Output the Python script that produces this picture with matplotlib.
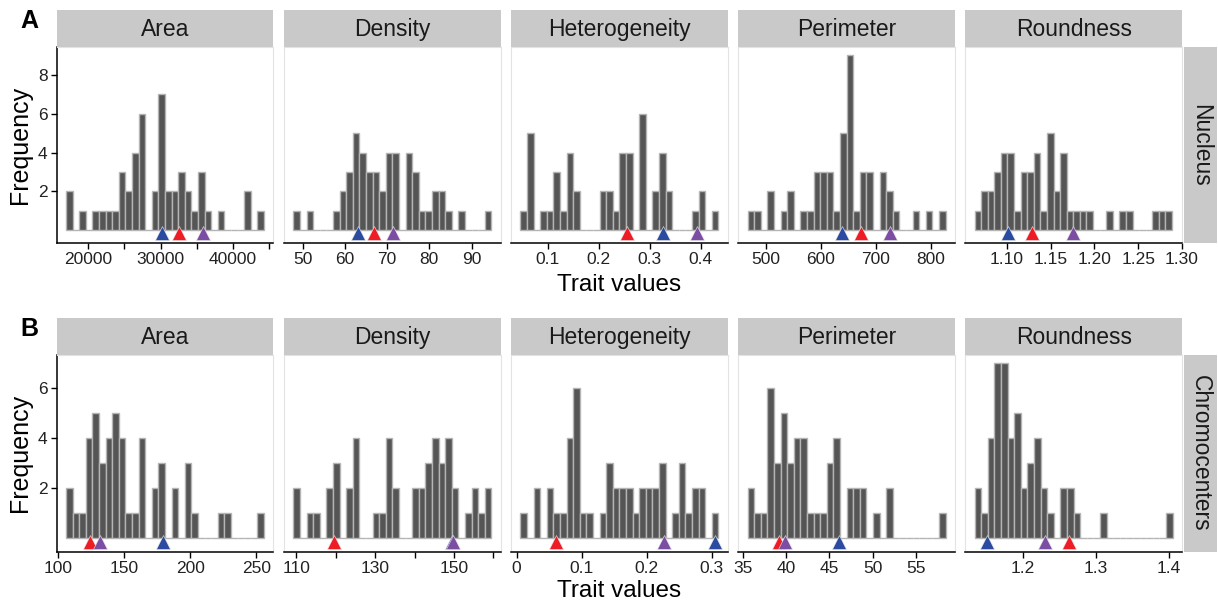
import matplotlib
matplotlib.use("Agg")
import matplotlib.pyplot as plt
import numpy as np

plt.rcParams['font.family'] = ['Liberation Sans', 'DejaVu Sans']

traits = ["Area", "Density", "Heterogeneity", "Perimeter", "Roundness"]
rows = ["Nucleus", "Chromocenters"]
row_tags = ["A", "B"]

# histogram counts (30 bins)
nuc_area = [2, 0, 1, 0, 1, 1, 1, 1, 3, 2, 4, 6, 0, 2, 7, 2, 2, 3, 2, 1, 3, 1, 0, 1, 0, 0, 0, 2, 0, 1]
nuc_density = [1, 0, 1, 0, 0, 0, 1, 2, 3, 5, 4, 3, 3, 2, 4, 4, 0, 4, 3, 1, 1, 2, 2, 1, 0, 1, 0, 0, 0, 1]
nuc_het = [1, 5, 0, 1, 1, 3, 1, 4, 2, 0, 0, 0, 2, 2, 1, 4, 4, 0, 6, 0, 2, 4, 2, 0, 0, 0, 1, 2, 0, 1]
nuc_perim = [1, 1, 0, 2, 0, 1, 2, 0, 1, 1, 3, 3, 3, 1, 5, 9, 1, 3, 3, 0, 3, 2, 1, 0, 0, 1, 0, 1, 0, 1]
nuc_round = [1, 2, 2, 3, 4, 4, 1, 3, 3, 4, 1, 5, 2, 4, 1, 1, 1, 1, 0, 0, 1, 0, 1, 1, 0, 0, 0, 1, 1, 1]
chr_area = [2, 1, 1, 4, 5, 3, 4, 5, 4, 1, 1, 4, 0, 2, 3, 0, 2, 0, 3, 1, 0, 0, 0, 1, 1, 0, 0, 0, 0, 1]
chr_density = [2, 0, 1, 1, 0, 2, 3, 0, 2, 4, 0, 0, 1, 1, 4, 2, 0, 0, 2, 2, 3, 4, 3, 4, 2, 0, 1, 2, 1, 2]
chr_het = [1, 0, 2, 0, 2, 1, 1, 4, 6, 1, 1, 0, 1, 3, 2, 2, 2, 1, 2, 2, 2, 3, 0, 1, 3, 1, 2, 2, 0, 1]
chr_perim = [2, 1, 1, 6, 3, 5, 3, 4, 4, 1, 1, 1, 3, 4, 0, 2, 2, 2, 0, 1, 0, 2, 0, 0, 0, 0, 0, 0, 0, 1]
chr_round = [2, 1, 4, 7, 7, 4, 5, 2, 3, 4, 2, 1, 0, 2, 2, 1, 0, 0, 0, 1, 0, 0, 0, 0, 0, 0, 0, 0, 0, 1]

# range covered by the bins (first edge, last edge)
nuc_ranges = [(16978, 44258), (47.77, 94.7), (0.0462, 0.4348), (466.7, 826.7), (1.0631, 1.2886)]
chr_ranges = [(106.3, 255.8), (109.3, 159.47), (0.0057, 0.3103), (35.51, 58.49), (1.1339, 1.4055)]

# marker positions: blue, red, purple
nuc_blue = [30220, 63.06, 0.327, 637.6, 1.101]
nuc_red = [32500, 66.8, 0.255, 672, 1.129]
nuc_purple = [35800, 71.4, 0.392, 725.5, 1.175]
chr_blue = [179.5, 149.6, 0.305, 46.14, 1.151]
chr_red = [124.1, 119.7, 0.0613, 39.18, 1.263]
chr_purple = [132.1, 149.8, 0.227, 39.9, 1.231]

# x ticks and labels per panel
nuc_ticks = [[20000, 25000, 30000, 35000, 40000, 45000], [50, 60, 70, 80, 90],
             [0.1, 0.2, 0.3, 0.4], [500, 600, 700, 800],
             [1.10, 1.15, 1.20, 1.25, 1.30]]
nuc_labels = [["20000", "", "30000", "", "40000", ""], ["50", "60", "70", "80", "90"],
              ["0.1", "0.2", "0.3", "0.4"], ["500", "600", "700", "800"],
              ["1.10", "1.15", "1.20", "1.25", "1.30"]]
chr_ticks = [[100, 150, 200, 250], [110, 120, 130, 140, 150, 160],
             [0, 0.1, 0.2, 0.3], [35, 40, 45, 50, 55], [1.2, 1.3, 1.4]]
chr_labels = [["100", "150", "200", "250"], ["110", "", "130", "", "150", ""],
              ["0", "0.1", "0.2", "0.3"], ["35", "40", "45", "50", "55"],
              ["1.2", "1.3", "1.4"]]
y_ticks = [[2, 4, 6, 8], [2, 4, 6]]

counts = [[nuc_area, nuc_density, nuc_het, nuc_perim, nuc_round],
          [chr_area, chr_density, chr_het, chr_perim, chr_round]]
ranges = [nuc_ranges, chr_ranges]
markers = [(nuc_blue, nuc_red, nuc_purple), (chr_blue, chr_red, chr_purple)]
ticks = [nuc_ticks, chr_ticks]
labels = [nuc_labels, chr_labels]

W, H = 1218, 604
fig = plt.figure(figsize=(W / 100, H / 100), dpi=100)

def px_axes(x0, y0, x1, y1):
    return fig.add_axes([x0 / W, 1 - y1 / H, (x1 - x0) / W, (y1 - y0) / H])

panel_left = [56.7, 284, 511, 738.3, 965.3]
panel_w = 216.7
row_top = [47, 355]
row_bot = [243, 551.7]
xlab_y = [285, 591]
strip_h = 37
ylims = [(-0.65, 9.43), (-0.56, 7.3)]
tri_y = [-0.12, -0.17]
tri_cols = ["#2B4BA0", "#EE1C25", "#7B4EA3"]
strip_col = "#C9C9C9"

for r in range(2):
    for c in range(5):
        x0 = panel_left[c]
        ax = px_axes(x0, row_top[r], x0 + panel_w, row_bot[r])
        lo, hi = ranges[r][c]
        edges = np.linspace(lo, hi, 31)
        ax.bar(edges[:-1], counts[r][c], width=edges[1] - edges[0], align='edge',
               color="#555555", edgecolor="#B4B4B4", linewidth=1.0, zorder=2)
        for vals, col in zip(markers[r], tri_cols):
            ax.plot(vals[c], tri_y[r], marker='^', ms=9.5, color=col,
                    mec='#E8E8E8', mew=0.4, zorder=3, clip_on=False)
        pad = 0.047 * (hi - lo)
        ax.set_xlim(lo - pad, hi + pad)
        ax.set_ylim(*ylims[r])
        ax.set_xticks(ticks[r][c])
        ax.set_xticklabels(labels[r][c])
        for s in ax.spines.values():
            s.set_color("#E3E3E3")
            s.set_linewidth(0.8)
        ax.spines['bottom'].set_color("black")
        ax.spines['bottom'].set_linewidth(1.1)
        ax.tick_params(axis='x', length=4, width=1, colors='black', labelsize=12.5,
                       labelcolor='#222222', pad=2.5)
        if c == 0:
            ax.spines['left'].set_color("black")
            ax.spines['left'].set_linewidth(1.1)
            ax.set_yticks(y_ticks[r])
            ax.tick_params(axis='y', length=4, width=1, colors='black', labelsize=12.5,
                           labelcolor='#222222', pad=2.5)
        else:
            ax.set_yticks([])

        # facet strip on top
        sx = px_axes(x0, row_top[r] - strip_h, x0 + panel_w, row_top[r])
        sx.set_facecolor(strip_col)
        sx.set_xticks([])
        sx.set_yticks([])
        for s in sx.spines.values():
            s.set_visible(False)
        sx.text(0.5, 0.48, traits[c], ha='center', va='center', fontsize=16.5,
                color='#1a1a1a', transform=sx.transAxes)

    # row strip on the right
    rx = px_axes(1183.5, row_top[r], 1217, row_bot[r])
    rx.set_facecolor(strip_col)
    rx.set_xticks([])
    rx.set_yticks([])
    for s in rx.spines.values():
        s.set_visible(False)
    rx.text(0.5, 0.5, rows[r], ha='center', va='center', rotation=-90, fontsize=16.5,
            color='#1a1a1a', transform=rx.transAxes)

    yc = (row_top[r] + row_bot[r]) / 2
    fig.text(20 / W, 1 - yc / H, "Frequency", rotation=90, ha='center', va='center',
             fontsize=18)
    fig.text(619 / W, 1 - xlab_y[r] / H, "Trait values", ha='center',
             va='center', fontsize=17.5)
    fig.text(29 / W, 1 - (row_top[r] - 26) / H, row_tags[r], ha='center', va='center',
             fontsize=18, fontweight='bold')

fig.savefig("out.png", dpi=100)
